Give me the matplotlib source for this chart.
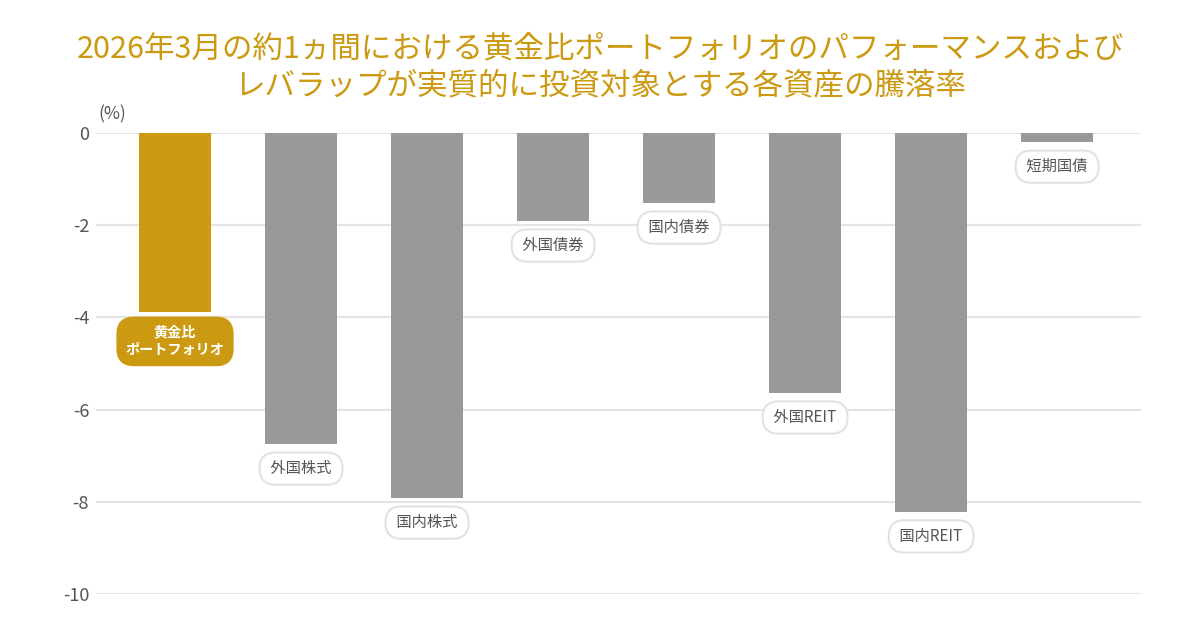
import matplotlib
matplotlib.use("Agg")
import matplotlib.pyplot as plt

plt.rcParams['font.family'] = ['Noto Sans CJK JP', 'DejaVu Sans']

categories = ["黄金比\nポートフォリオ", "外国株式", "国内株式", "外国債券", "国内債券", "外国REIT", "国内REIT", "短期国債"]
values = [-3.88, -6.75, -7.92, -1.91, -1.52, -5.64, -8.22, -0.20]
yticks = [0, -2, -4, -6, -8, -10]
title = "2026年3月の約1ヵ間における黄金比ポートフォリオのパフォーマンスおよび\nレバラップが実質的に投資対象とする各資産の騰落率"

GOLD = "#CC9A12"
GRAY = "#999999"

fig = plt.figure(figsize=(12, 6.4), dpi=100)
ax = fig.add_axes([0.08, 1 - 594 / 640, 0.871, (594 - 133) / 640])

x = list(range(len(categories)))
colors = [GOLD] + [GRAY] * (len(categories) - 1)
ax.bar(x, values, width=0.57, color=colors, zorder=3)

ax.set_xlim(-0.627, 7.667)
ax.set_ylim(-10, 0)
ax.set_yticks(yticks)
ax.set_yticklabels([str(t) for t in yticks], fontsize=13, color="#555555")
ax.tick_params(axis='y', length=0, pad=5)
ax.set_xticks([])
for s in ax.spines.values():
    s.set_visible(False)
ax.grid(axis='y', color="#E4E4E4", linewidth=1.5, zorder=0)

fig.text(112 / 1200, 1 - 114 / 640, "(%)", fontsize=12.5, color="#555555",
         ha='center', va='center')

for i, (c, v) in enumerate(zip(categories, values)):
    if i == 0:
        ax.annotate(c, xy=(i, v), xytext=(0, -10), textcoords='offset points',
                    ha='center', va='top', fontsize=10.2, color='white', fontweight='bold',
                    linespacing=1.3, annotation_clip=False, zorder=5,
                    bbox=dict(boxstyle="round,pad=0.6,rounding_size=1.2", fc=GOLD, ec=GOLD))
    else:
        ax.annotate(" " + c + " ", xy=(i, v), xytext=(0, -11.5), textcoords='offset points',
                    ha='center', va='top', fontsize=11, color='#555555',
                    annotation_clip=False, zorder=5,
                    bbox=dict(boxstyle="round,pad=0.5,rounding_size=1.05", fc='white',
                              ec='#E0E2E8', lw=1.5))

fig.text(0.5, 0.947, title, ha='center', va='top', fontsize=22, color=GOLD,
         linespacing=1.22)

fig.savefig("out.png", dpi=100)
